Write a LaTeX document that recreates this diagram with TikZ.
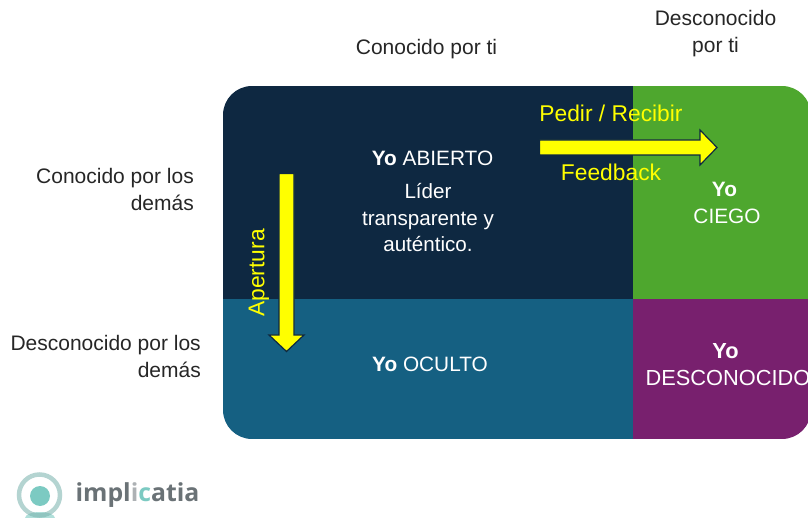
\documentclass[tikz,border=0pt]{standalone}
\usepackage{fontspec}
\setmainfont{Liberation Sans}
\newfontfamily\logofont{Open Sans}
\definecolor{navy}{HTML}{0E2841}
\definecolor{tealq}{HTML}{156082}
\definecolor{greenq}{HTML}{4EA72E}
\definecolor{purpq}{HTML}{78206E}
\definecolor{arrowy}{HTML}{FFFF00}
\definecolor{logog}{HTML}{6A7276}
\definecolor{logot}{HTML}{7CCAC2}
\tikzset{
  lab/.style={font=\fontsize{21}{27}\selectfont,text=black!85,align=center,inner sep=0pt},
  labr/.style={lab,align=right},
  quad/.style={font=\fontsize{20.8}{27}\selectfont,text=white,align=center,inner sep=0pt},
  ylab/.style={font=\fontsize{22.8}{27}\selectfont,text=arrowy,inner sep=0pt},
  yarrow/.style={fill=arrowy,draw=navy,line width=1.2pt,line join=miter},
}
\begin{document}
\begin{tikzpicture}[x=1pt,y=-1pt]
\useasboundingbox (0,0) rectangle (808,518);
\begin{scope}
  \clip[rounded corners=29pt] (223,86) rectangle (811,439);
  \fill[navy] (223,86) rectangle (633,299.5);
  \fill[tealq] (223,299.5) rectangle (633,439);
  \fill[greenq] (633,86) rectangle (811,299.5);
  \fill[purpq] (633,299.5) rectangle (811,439);
\end{scope}
\node[lab] (n1) at (426.5,49.5) {Conocido por ti};
\node[lab] (n2) at (715.5,33.5) {Desconocido\\por ti};
\node[labr,anchor=east] (n3) at (194,189) {Conocido por los\\demás};
\node[labr,anchor=east] (n4) at (201,356) {Desconocido por los\\demás};
\node[quad] (a) at (432.5,158.5) {\textbf{Yo} ABIERTO};
\node[quad,font=\fontsize{20.6}{26.5}\selectfont] (a2) at (428,218) {Líder\\transparente y\\auténtico.};
\node[quad] (o) at (430,364.5) {\textbf{Yo} OCULTO};
\node[quad] (c) at (727,203) {\textbf{Yo}\hspace*{5pt}\\CIEGO};
\node[quad,font=\fontsize{21.8}{27}\selectfont] (d) at (728,365) {\textbf{Yo}\hspace*{5pt}\\DESCONOCIDO};
\draw[yarrow] (539.5,140) -- (700,140) -- (700,130) -- (717,147.5) -- (700,165) -- (700,155) -- (539.5,155) -- cycle;
\draw[yarrow] (279,173.5) -- (294,173.5) -- (294,335) -- (304,335) -- (286.5,351.5) -- (269,335) -- (279,335) -- cycle;
\node[ylab] (p) at (611,113.5) {Pedir / Recibir};
\node[ylab] (f) at (611,172.5) {Feedback};
\node[ylab,rotate=90] (ap) at (259,273) {Apertura};
% logo
\begin{scope}
  \clip (0,470) rectangle (80,518);
  \fill[logot!60] (40,518) ellipse (15pt and 6pt);
\end{scope}
\draw[logot!70!logog,line width=4.5pt,opacity=.55] (39.5,495) circle (20.5pt);
\fill[logot] (40,496) circle (10pt);
\node[inner sep=0pt,text=logog,font=\logofont\fontsize{24.8}{28}\selectfont\bfseries] (lg) at (137.5,495) {impl\textcolor{logog!55}{i}\textcolor{logot}{c}atia};
\end{tikzpicture}
\end{document}
